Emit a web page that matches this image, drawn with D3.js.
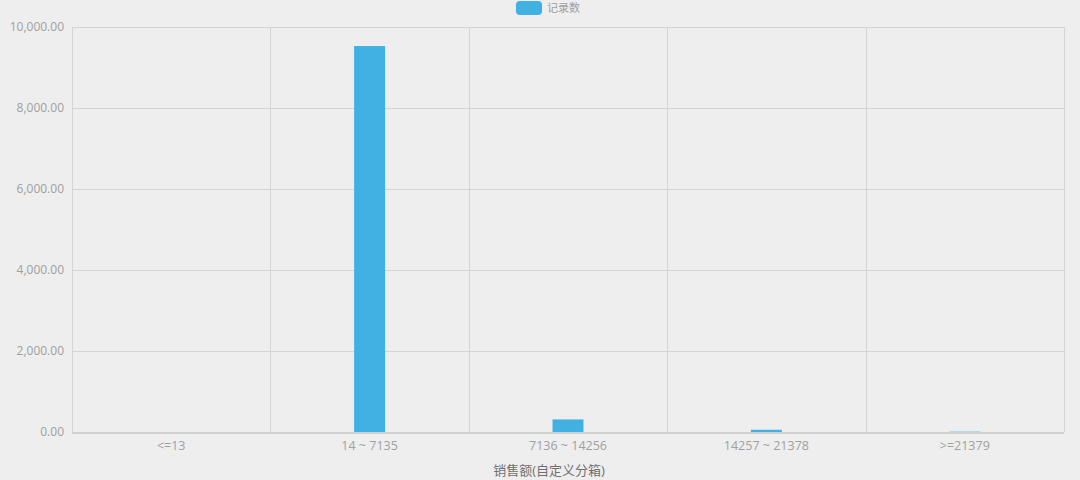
<!DOCTYPE html>
<html><head><meta charset="utf-8">
<script src="https://cdn.jsdelivr.net/npm/d3@7"></script>
<style>body{margin:0;background:#eeeeee;}svg{display:block;font-family:"Open Sans","Noto Sans CJK SC",sans-serif;}</style>
</head><body><svg id="c" width="1080" height="480"></svg>
<script>
const categories = ["<=13", "14 ~ 7135", "7136 ~ 14256", "14257 ~ 21378", ">=21379"];
const values = [0, 9530, 310, 55, 8];
const yTicks = [0, 2000, 4000, 6000, 8000, 10000];
const seriesName = "记录数";
const xTitle = "销售额(自定义分箱)";

const svg = d3.select("#c");
const m = {l:72, r:1064, t:27, b:432};
const x = d3.scaleBand().domain(categories).range([m.l, m.r]);
const y = d3.scaleLinear().domain([0, 10000]).range([m.b, m.t]);
const color = "#41b1e3";
const fmt = d3.format(",.2f");

// grid horizontal
svg.append("g").selectAll("line").data(yTicks).join("line")
  .attr("x1", m.l).attr("x2", m.r).attr("y1", d=>y(d)+0.5).attr("y2", d=>y(d)+0.5)
  .attr("stroke", "#d4d4d4");
// vertical category separators
const seps = categories.map(c=>x(c)).concat([m.r]);
svg.append("g").selectAll("line").data(seps).join("line")
  .attr("x1", d=>Math.round(d)+0.5).attr("x2", d=>Math.round(d)+0.5).attr("y1", m.t).attr("y2", m.b)
  .attr("stroke", "#d4d4d4");
// bottom axis line
svg.append("line").attr("x1", m.l).attr("x2", m.r).attr("y1", m.b+1).attr("y2", m.b+1)
  .attr("stroke", "#d0d0d0").attr("stroke-width", 2);

// bars
const bw = 31;
svg.append("g").selectAll("rect").data(values).join("rect")
  .attr("x", (d,i)=>x(categories[i]) + x.bandwidth()/2 - bw/2)
  .attr("width", bw)
  .attr("y", d=>y(d))
  .attr("height", d=>m.b - y(d))
  .attr("fill", color);

// y labels
svg.append("g").selectAll("text").data(yTicks).join("text")
  .attr("x", 64).attr("y", d=>y(d)+4).attr("text-anchor", "end")
  .attr("font-size", 12).attr("fill", "#a0a0a0").text(d=>fmt(d));

// x labels
svg.append("g").selectAll("text").data(categories).join("text")
  .attr("x", d=>x(d)+x.bandwidth()/2).attr("y", 450).attr("text-anchor", "middle")
  .attr("font-size", 12.5).attr("fill", "#a0a0a0").text(d=>d);

// x title
svg.append("text").attr("x", 549).attr("y", 475).attr("text-anchor", "middle")
  .attr("font-size", 13).attr("fill", "#707070").text(xTitle);

// legend
svg.append("rect").attr("x", 516).attr("y", 1).attr("width", 26).attr("height", 14).attr("rx", 4)
  .attr("fill", color);
svg.append("text").attr("x", 547).attr("y", 12).attr("font-size", 11).attr("fill", "#a0a0a0").text(seriesName);
</script></body></html>
